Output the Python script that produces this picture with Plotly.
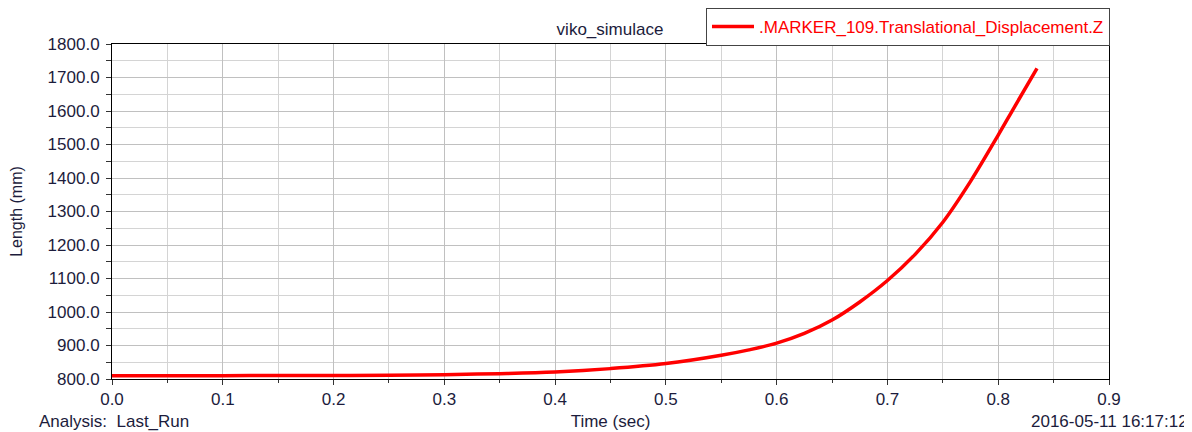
import plotly.graph_objects as go

time_sec = [0.0, 0.05, 0.1, 0.15, 0.2, 0.25, 0.3, 0.35, 0.4, 0.45, 0.5, 0.55,
            0.575, 0.6, 0.625, 0.65, 0.675, 0.7, 0.725, 0.75, 0.775, 0.8, 0.815, 0.835]
length_mm = [810, 810, 810, 810.2, 810.5, 811, 813, 816, 821, 831, 846, 871,
             887, 907, 936, 976, 1030, 1094, 1172, 1268, 1390, 1528, 1614, 1727]

series_name = ".MARKER_109.Translational_Displacement.Z"
x_ticks = [0.0, 0.1, 0.2, 0.3, 0.4, 0.5, 0.6, 0.7, 0.8, 0.9]
y_ticks = [800, 900, 1000, 1100, 1200, 1300, 1400, 1500, 1600, 1700, 1800]

FONT = "Liberation Sans, Arial, sans-serif"
TXT = "#1c1c3c"

fig = go.Figure()
fig.add_trace(go.Scatter(
    x=time_sec, y=length_mm, mode="lines", name=series_name,
    line=dict(color="#ff0000", width=3.5, shape="spline", smoothing=1.0),
))

axis_common = dict(
    showline=True, linecolor="black", linewidth=1, mirror=True,
    showgrid=True, gridcolor="#c0c0c0", gridwidth=1,
    zeroline=False, ticks="outside", ticklen=5, tickcolor="#333333",
    tickfont=dict(family=FONT, size=17, color=TXT),
    automargin=False,
)

fig.update_xaxes(
    range=[0, 0.9], tickvals=x_ticks,
    ticktext=[f"{v:.1f}" for v in x_ticks],
    minor=dict(dtick=0.05, showgrid=True, gridcolor="#d4d4d4", ticks="outside",
               ticklen=3, tickcolor="#333333"),
    title=dict(text="Time (sec)", font=dict(family=FONT, size=17, color=TXT), standoff=6),
    **axis_common,
)
fig.update_yaxes(
    range=[800, 1800], tickvals=y_ticks,
    ticktext=[f"{v:.1f}" for v in y_ticks],
    minor=dict(dtick=50, showgrid=True, gridcolor="#d4d4d4", ticks="outside",
               ticklen=5, tickcolor="#333333"),
    ticklabelstandoff=3,
    title=dict(text="Length (mm)", font=dict(family=FONT, size=16, color=TXT), standoff=24),
    **axis_common,
)

fig.update_layout(
    width=1192, height=432,
    margin=dict(l=104, r=91, t=36, b=61, autoexpand=False),
    paper_bgcolor="white", plot_bgcolor="white",
    title=dict(text="viko_simulace", xref="container", x=602 / 1192, xanchor="center",
               yref="container", y=0.951, yanchor="middle",
               font=dict(family=FONT, size=17, color=TXT)),
    showlegend=True,
    legend=dict(x=1.001, xanchor="right", y=1.1075, yanchor="top",
                bordercolor="#444444", borderwidth=1, bgcolor="white",
                font=dict(family=FONT, size=17, color="#ff0000"),
                itemwidth=42, tracegroupgap=0),
    annotations=[
        dict(text="Analysis:  Last_Run", xref="paper", yref="paper", x=-0.0752, y=-0.128,
             xanchor="left", yanchor="middle", showarrow=False,
             font=dict(family=FONT, size=17, color=TXT)),
        dict(text="2016-05-11 16:17:12", xref="paper", yref="paper", x=1.0812, y=-0.128,
             xanchor="right", yanchor="middle", showarrow=False,
             font=dict(family=FONT, size=17, color=TXT)),
    ],
)

fig.write_html("out.html")
